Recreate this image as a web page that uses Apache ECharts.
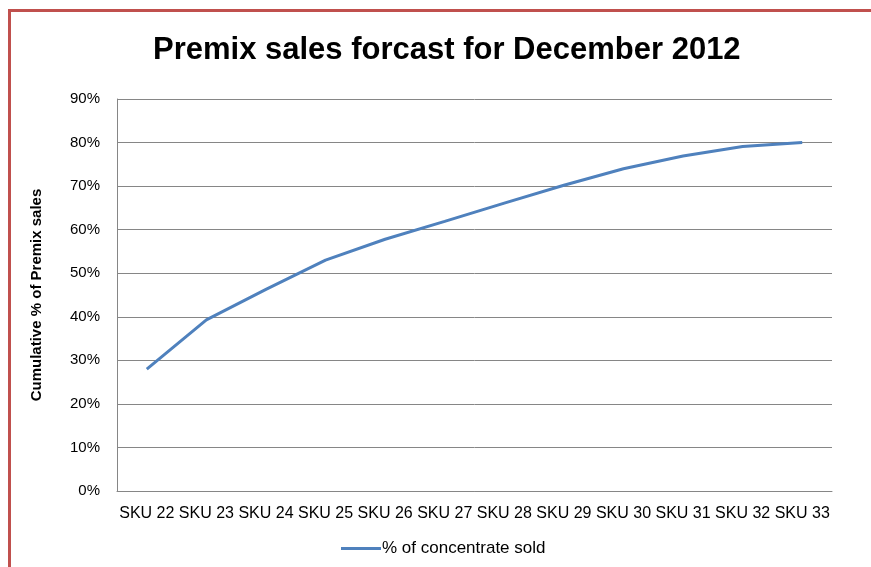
<!DOCTYPE html>
<html>
<head>
<meta charset="utf-8">
<script src="https://cdn.jsdelivr.net/npm/echarts@6/dist/echarts.min.js"></script>
<style>
html,body{margin:0;padding:0;background:#fff;}
#main{width:871px;height:567px;}
</style>
</head>
<body>
<div id="main"></div>
<script>
var chartTitle = 'Premix sales forcast for December 2012';
var categories = ['SKU 22','SKU 23','SKU 24','SKU 25','SKU 26','SKU 27','SKU 28','SKU 29','SKU 30','SKU 31','SKU 32','SKU 33'];
var seriesName = '% of concentrate sold';
var values = [28, 39.3, 46.3, 53, 57.8, 61.9, 66.1, 70.2, 74, 76.9, 79.1, 80];
var yAxisName = 'Cumulative % of Premix sales';
var yMin = 0, yMax = 90, yStep = 10;

var chart = echarts.init(document.getElementById('main'), null, {renderer:'canvas'});
var font = 'Liberation Sans';
chart.setOption({
  backgroundColor: '#ffffff',
  animation: false,
  graphic: [
    {type:'line', shape:{x1:9.5,y1:10.5,x2:871,y2:10.5}, style:{stroke:'#c0504d', lineWidth:3}},
    {type:'line', shape:{x1:9.5,y1:9,x2:9.5,y2:567}, style:{stroke:'#c0504d', lineWidth:3}}
  ],
  title: {
    text: chartTitle,
    left: 148,
    top: 30,
    textStyle: {fontFamily: font, fontSize: 31, fontWeight: 'bold', color: '#000'}
  },
  legend: {
    bottom: 5,
    left: 336,
    itemWidth: 40,
    itemHeight: 3,
    icon: 'rect',
    itemGap: 4,
    textStyle: {fontFamily: font, fontSize: 17, color: '#000', padding: [0,0,0,-4]},
    data: [seriesName]
  },
  grid: {left: 117, right: 39, top: 99, bottom: 76, containLabel: false},
  xAxis: {
    type: 'category',
    data: categories,
    boundaryGap: true,
    axisLine: {show: true, lineStyle: {color: '#868686', width: 1}},
    axisTick: {show: false},
    axisLabel: {interval: 0, margin: 15, fontFamily: font, fontSize: 16, color: '#000'}
  },
  yAxis: {
    type: 'value',
    min: yMin, max: yMax, interval: yStep,
    name: yAxisName,
    nameLocation: 'middle',
    nameGap: 73,
    nameRotate: 90,
    nameTextStyle: {fontFamily: font, fontSize: 15, fontWeight: 'bold', color: '#000'},
    axisLine: {show: true, lineStyle: {color: '#868686', width: 1}},
    axisTick: {show: false},
    axisLabel: {margin: 17, fontFamily: font, fontSize: 15, color: '#000', formatter: function(v){return v + '%';}},
    splitLine: {show: true, lineStyle: {color: '#868686', width: 1}}
  },
  series: [{
    name: seriesName,
    type: 'line',
    data: values,
    showSymbol: false,
    symbol: 'none',
    lineStyle: {color: '#4f81bd', width: 3},
    itemStyle: {color: '#4f81bd'}
  }]
});
</script>
</body>
</html>
